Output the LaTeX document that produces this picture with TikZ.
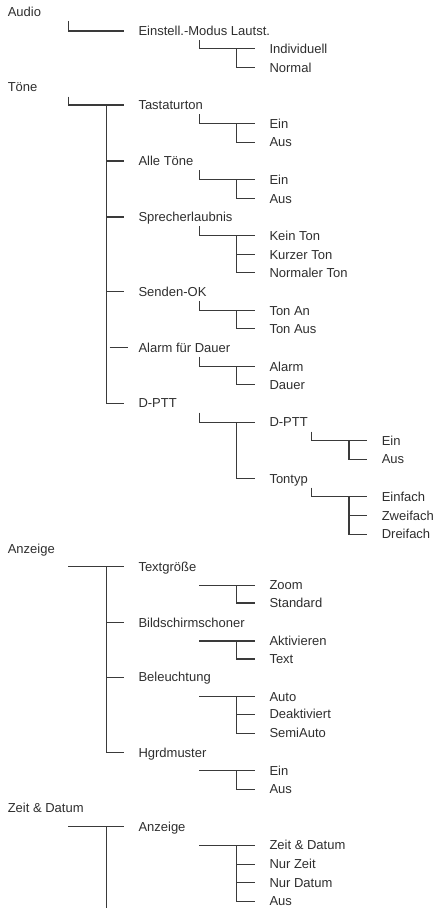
\documentclass[tikz,border=0pt]{standalone}
\usepackage{fontspec}
\setmainfont{Liberation Sans}
\usetikzlibrary{calc}
\definecolor{txt}{HTML}{2E2E2E}
\definecolor{ln}{HTML}{3A3A3A}
\begin{document}
\begin{tikzpicture}[x=1bp,y=-1bp,
  lbl/.style={anchor=west,inner sep=0pt,text height=13.65bp,text depth=4.35bp,text=txt,font=\fontsize{13.05}{15}\selectfont},
  conn/.style={draw=ln,line width=1.25bp}]
\useasboundingbox (0,0) rectangle (436,908);
% guide coordinates (hook, trunk, end x per level)
\coordinate (h0) at (68.3,0);  \coordinate (t0) at (106.4,0); \coordinate (e0) at (124.2,0);
\coordinate (h1) at (199.4,0); \coordinate (t1) at (236.8,0); \coordinate (e1) at (255.2,0);
\coordinate (h2) at (311.7,0); \coordinate (t2) at (349.0,0); \coordinate (e2) at (366.8,0);
\coordinate (bottom) at (0,908);
\node[lbl] (audio) at (7.6,11.7) {Audio};
\node[lbl] (einst) at (138.3,31) {Einstell.-Modus Lautst.};
\node[lbl] (indiv) at (269.3,48.7) {Individuell};
\node[lbl] (normal) at (269.3,67.7) {Normal};
\node[lbl] (toene) at (7.6,87.3) {Töne};
\node[lbl] (tast) at (138.3,105) {Tastaturton};
\node[lbl] (tastein) at (269.3,123.7) {Ein};
\node[lbl] (tastaus) at (269.3,142.3) {Aus};
\node[lbl] (alle) at (138.3,161) {Alle Töne};
\node[lbl] (alleein) at (269.3,179.7) {Ein};
\node[lbl] (alleaus) at (269.3,198.7) {Aus};
\node[lbl] (sprech) at (138.3,217) {Sprecherlaubnis};
\node[lbl] (kein) at (269.3,235.7) {Kein Ton};
\node[lbl] (kurz) at (269.3,254.7) {Kurzer Ton};
\node[lbl] (normton) at (269.3,272.7) {Normaler Ton};
\node[lbl] (senden) at (138.3,291.7) {Senden-OK};
\node[lbl] (tonan) at (269.3,310.7) {Ton An};
\node[lbl] (tonaus) at (269.3,328.7) {Ton Aus};
\node[lbl] (alarmd) at (138.3,347.7) {Alarm für Dauer};
\node[lbl] (alarm) at (269.3,366.7) {Alarm};
\node[lbl] (dauer) at (269.3,384.7) {Dauer};
\node[lbl] (dptt) at (138.3,403.3) {D-PTT};
\node[lbl] (dptt2) at (269.3,422.3) {D-PTT};
\node[lbl] (dein) at (381.6,440.7) {Ein};
\node[lbl] (daus) at (381.6,459.3) {Aus};
\node[lbl] (tontyp) at (269.3,478.5) {Tontyp};
\node[lbl] (einfach) at (381.6,496.7) {Einfach};
\node[lbl] (zweifach) at (381.6,515.7) {Zweifach};
\node[lbl] (dreifach) at (381.6,534.3) {Dreifach};
\node[lbl] (anzeige) at (7.6,548.7) {Anzeige};
\node[lbl] (textgr) at (138.3,566.7) {Textgröße};
\node[lbl] (zoom) at (269.3,585.3) {Zoom};
\node[lbl] (standard) at (269.3,603) {Standard};
\node[lbl] (bild) at (138.3,622.5) {Bildschirmschoner};
\node[lbl] (aktiv) at (269.3,641) {Aktivieren};
\node[lbl] (textx) at (269.3,659) {Text};
\node[lbl] (beleucht) at (138.3,677.3) {Beleuchtung};
\node[lbl] (auto) at (269.3,696.7) {Auto};
\node[lbl] (deakt) at (269.3,714.3) {Deaktiviert};
\node[lbl] (semi) at (269.3,733.3) {SemiAuto};
\node[lbl] (hgrd) at (138.3,752.7) {Hgrdmuster};
\node[lbl] (hein) at (269.3,770.7) {Ein};
\node[lbl] (haus) at (269.3,789.3) {Aus};
\node[lbl] (zeit) at (7.6,808.3) {Zeit \& Datum};
\node[lbl] (anz2) at (138.3,826.7) {Anzeige};
\node[lbl] (zd) at (269.3,845.3) {Zeit \& Datum};
\node[lbl] (nurzeit) at (269.3,864.3) {Nur Zeit};
\node[lbl] (nurdatum) at (269.3,882.7) {Nur Datum};
\node[lbl] (ausz) at (269.3,901.3) {Aus};
% ---- Audio
\draw[conn] (audio.south -| h0) |- (einst.west -| e0);
\draw[conn] (einst.south -| h1) |- (indiv.west -| e1);
\draw[conn] (indiv.west -| t1) |- (normal.west -| e1);
% ---- Toene
\draw[conn] (toene.south -| h0) |- (tast.west -| e0);
\draw[conn] (tast.west -| t0) |- (dptt.west -| e0);
\foreach \n in {alle,sprech,senden} \draw[conn] (\n.west -| t0) -- (\n.west -| e0);
\draw[conn] ($(alarmd.west -| t0)+(3.3,0)$) -- ($(alarmd.west -| e0)+(3.8,0)$);
\draw[conn] (tast.south -| h1) |- (tastein.west -| e1);
\draw[conn] (tastein.west -| t1) |- (tastaus.west -| e1);
\draw[conn] (alle.south -| h1) |- (alleein.west -| e1);
\draw[conn] (alleein.west -| t1) |- (alleaus.west -| e1);
\draw[conn] (sprech.south -| h1) |- (kein.west -| e1);
\draw[conn] (kein.west -| t1) |- (normton.west -| e1);
\draw[conn] (kurz.west -| t1) -- (kurz.west -| e1);
\draw[conn] (senden.south -| h1) |- (tonan.west -| e1);
\draw[conn] (tonan.west -| t1) |- (tonaus.west -| e1);
\draw[conn] (alarmd.south -| h1) |- (alarm.west -| e1);
\draw[conn] (alarm.west -| t1) |- (dauer.west -| e1);
\draw[conn] (dptt.south -| h1) |- (dptt2.west -| e1);
\draw[conn] (dptt2.west -| t1) |- (tontyp.west -| e1);
\draw[conn] (dptt2.south -| h2) |- (dein.west -| e2);
\draw[conn] (dein.west -| t2) |- (daus.west -| e2);
\draw[conn] (tontyp.south -| h2) |- (einfach.west -| e2);
\draw[conn] (einfach.west -| t2) |- (dreifach.west -| e2);
\draw[conn] (zweifach.west -| t2) -- (zweifach.west -| e2);
% ---- Anzeige
\draw[conn] (textgr.west -| h0) -- (textgr.west -| e0);
\draw[conn] (textgr.west -| t0) |- (hgrd.west -| e0);
\foreach \n in {bild,beleucht} \draw[conn] (\n.west -| t0) -- (\n.west -| e0);
\draw[conn] (zoom.west -| h1) -- (zoom.west -| e1);
\draw[conn] (zoom.west -| t1) |- (standard.west -| e1);
\draw[conn] (aktiv.west -| h1) -- (aktiv.west -| e1);
\draw[conn] (aktiv.west -| t1) |- (textx.west -| e1);
\draw[conn] (auto.west -| h1) -- (auto.west -| e1);
\draw[conn] (auto.west -| t1) |- (semi.west -| e1);
\draw[conn] (deakt.west -| t1) -- (deakt.west -| e1);
\draw[conn] (hein.west -| h1) -- (hein.west -| e1);
\draw[conn] (hein.west -| t1) |- (haus.west -| e1);
% ---- Zeit & Datum
\draw[conn] (anz2.west -| h0) -- (anz2.west -| e0);
\draw[conn] (anz2.west -| t0) -- (bottom -| t0);
\draw[conn] (zd.west -| h1) -- (zd.west -| e1);
\draw[conn] (zd.west -| t1) |- (ausz.west -| e1);
\foreach \n in {nurzeit,nurdatum} \draw[conn] (\n.west -| t1) -- (\n.west -| e1);
\end{tikzpicture}
\end{document}
